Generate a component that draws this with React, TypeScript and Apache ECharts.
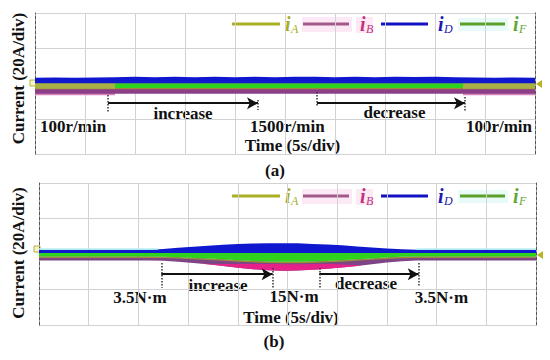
import React, { useEffect, useRef } from "react";
import * as echarts from "echarts";

// ---------- Panel (a): speed change, 100 -> 1500 -> 100 r/min ----------
const timeA = [0, 2, 4, 6, 8, 10, 12, 14, 16, 18, 20, 22, 24, 26, 28, 30, 32, 34, 36, 38, 40, 42, 44, 46, 48, 50];
const blueTopA = [3.3, 3.4, 3.3, 3.4, 3.5, 3.8, 3.5, 3.9, 3.6, 3.8, 3.6, 3.9, 3.6, 3.8, 3.9, 3.6, 3.9, 3.6, 3.9, 3.7, 3.8, 3.6, 3.4, 3.3, 3.4, 3.3];
const edgeTimeA = [0, 50];
const blueBottomA = [0.2, 0.2];
const greenTimeA = [8, 42.8];
const greenTopA = [0.2, 0.2];
const greenBottomA = [-2.6, -2.6];
const oliveTopA = [0.2, 0.2];
const oliveBottomA = [-3.3, -3.3];
const purpleTopA = [-2.6, -2.6];
const purpleBottomA = [-5.8, -5.8];
const mixLeftTimeA = [0, 8];
const mixRightTimeA = [42.8, 50];
const mixOliveTopA = [0.3, 0.3];
const mixOliveBottomA = [-3.0, -3.0];
const mixPinkTopA = [-3.6, -3.6];
const mixPinkBottomA = [-6.6, -6.6];

// ---------- Panel (b): load change, 3.5 -> 15 -> 3.5 N·m ----------
const timeB = [0, 11, 12.5, 14, 15.5, 17, 18.5, 20, 21.5, 23, 24.5, 26, 27.5, 29, 30.5, 32, 33.5, 35, 36.5, 38, 39.5, 50];
const blueTopB = [2.4, 2.4, 2.8, 3.5, 4.1, 4.7, 5.2, 5.6, 5.9, 6.0, 6.1, 6.0, 5.7, 5.3, 4.9, 4.2, 3.6, 3.1, 2.7, 2.4, 2.4, 2.4];
const greenBottomB = [-1.4, -1.4, -1.5, -1.8, -2.2, -2.6, -3.0, -3.5, -3.9, -4.2, -4.4, -4.4, -4.2, -3.9, -3.5, -3.0, -2.5, -2.0, -1.6, -1.4, -1.4, -1.4];
const oliveBottomB = [-2.2, -2.2, -2.3, -2.6, -3.0, -3.4, -3.8, -4.3, -4.7, -5.0, -5.2, -5.2, -5.0, -4.7, -4.3, -3.8, -3.3, -2.8, -2.4, -2.2, -2.2, -2.2];
const purpleBottomB = [-3.7, -3.7, -3.8, -4.3, -5.0, -5.8, -6.8, -7.8, -8.6, -9.2, -9.4, -9.3, -8.9, -8.3, -7.6, -6.8, -5.8, -4.8, -4.1, -3.7, -3.7, -3.7];
const edgeTimeB = [0, 50];
const blueBottomB = [0.5, 0.5];
const magentaTimeB = [16, 17.5, 19, 20.5, 22, 23.5, 25, 26.5, 28, 29.5, 31, 32.5];
const magentaTopB = [-5.3, -5.6, -5.6, -5.6, -5.6, -5.7, -5.8, -5.8, -5.7, -5.7, -6.0, -6.5];
const magentaBottomB = [-5.3, -6.1, -7.1, -8.0, -8.8, -9.3, -9.4, -9.2, -8.7, -8.0, -7.3, -6.5];
const cyanLeftTimeB = [0, 12];
const cyanRightTimeB = [38, 50];
const cyanTopB = [3.2, 3.2];
const cyanBottomB = [2.4, 2.4];

// ---------- annotation positions (s, A) ----------
const arrowsA = [
  { from: 7.3, to: 22.3, y: -11.2 },
  { from: 28.2, to: 43.0, y: -11.2 },
];
const ticksA = [
  { t: 7.3, y1: -6.5, y2: -16.2 },
  { t: 22.3, y1: -9.4, y2: -15.0 },
  { t: 28.2, y1: -4.8, y2: -13.3 },
  { t: 43.0, y1: -7.7, y2: -16.2 },
];
const arrowsB = [
  { from: 12.3, to: 23.5, y: -11.4 },
  { from: 28.2, to: 38.2, y: -11.4 },
];
const ticksB = [
  { t: 12.3, y1: -5.1, y2: -19.0 },
  { t: 23.5, y1: -7.9, y2: -19.0 },
  { t: 28.2, y1: -7.9, y2: -19.0 },
  { t: 38.2, y1: -5.1, y2: -18.6 },
];

const legendNames = ["A", "B", "D", "F"];
const legendLineColors = ["#a9b021", "#a3588a", "#1212c4", "#5ca02a"];
const legendTextColors = ["#a6ad1f", "#c2327c", "#1a1ab0", "#5ea834"];
const legendLineX = [[232, 280], [303, 349], [381, 428], [460, 505]];
const legendTextX = [285, 360, 438, 513];

const SERIF = "'Liberation Serif', 'Times New Roman', serif";

function band(g: number, tTop: number[], vTop: number[], tBot: number[], vBot: number[], color: string, opacity = 1) {
  return {
    type: "custom",
    xAxisIndex: g,
    yAxisIndex: g * 2,
    silent: true,
    clip: true,
    data: [[tTop[0], vTop[0]]],
    renderItem: (_p: any, api: any) => {
      const pts: number[][] = [];
      for (let i = 0; i < tTop.length; i++) pts.push(api.coord([tTop[i], vTop[i]]));
      for (let i = tBot.length - 1; i >= 0; i--) pts.push(api.coord([tBot[i], vBot[i]]));
      return { type: "polygon", shape: { points: pts }, style: { fill: color, opacity } };
    },
  };
}

function annotations(g: number, arrows: any[], ticks: any[]) {
  const data: any[] = [];
  arrows.forEach((a) => {
    data.push([
      { coord: [a.from, a.y], symbol: "none", lineStyle: { color: "#111", width: 2, type: "solid" } },
      { coord: [a.to, a.y], symbol: "arrow", symbolSize: [9, 11] },
    ]);
  });
  ticks.forEach((k) => {
    data.push([
      { coord: [k.t, k.y1], symbol: "none", lineStyle: { color: "#333", width: 1.5, type: "dotted" } },
      { coord: [k.t, k.y2], symbol: "none" },
    ]);
  });
  return {
    type: "line",
    xAxisIndex: g,
    yAxisIndex: g * 2,
    data: [],
    silent: true,
    markLine: { silent: true, animation: false, label: { show: false }, symbol: ["none", "none"], data },
  };
}

function txt(text: string, x: number, y: number, align = "center", extra: any = {}) {
  return {
    type: "text",
    x,
    y,
    silent: true,
    ...extra,
    style: {
      text,
      fontFamily: SERIF,
      fontWeight: "bold",
      fontSize: 17,
      lineHeight: 16,
      fill: "#111",
      textAlign: align,
      textVerticalAlign: "middle",
      align,
      verticalAlign: "middle",
    },
  };
}

function legend(yc: number) {
  const els: any[] = [];
  els.push({ type: "rect", shape: { x: 302, y: yc - 7, width: 50, height: 15 }, style: { fill: "#fde8f5" }, silent: true });
  els.push({ type: "rect", shape: { x: 356, y: yc - 7, width: 17, height: 16 }, style: { fill: "#fde8f5" }, silent: true });
  els.push({ type: "rect", shape: { x: 458, y: yc - 6, width: 50, height: 13 }, style: { fill: "#e8fbf8" }, silent: true });
  legendNames.forEach((n, i) => {
    els.push({
      type: "line",
      silent: true,
      shape: { x1: legendLineX[i][0], y1: yc, x2: legendLineX[i][1], y2: yc },
      style: { stroke: legendLineColors[i], lineWidth: 3 },
    });
    els.push({
      type: "text",
      silent: true,
      x: legendTextX[i],
      y: yc,
      style: { text: "i", fontFamily: SERIF, fontStyle: "italic", fontWeight: "bold", fontSize: 20, fill: legendTextColors[i], textAlign: "left", textVerticalAlign: "middle", align: "left", verticalAlign: "middle" },
    });
    els.push({
      type: "text",
      silent: true,
      x: legendTextX[i] + 6,
      y: yc + 5,
      style: { text: n, fontFamily: SERIF, fontStyle: "italic", fontSize: 12, fill: legendTextColors[i], textAlign: "left", textVerticalAlign: "middle", align: "left", verticalAlign: "middle" },
    });
  });
  return els;
}

function markers(xl: number, yl: number, xr: number, yr: number) {
  return [
    { type: "rect", silent: true, shape: { x: xl - 4, y: yl - 3, width: 6, height: 6 }, style: { fill: "#f4f4c8", stroke: "#b4b43c", lineWidth: 1 } },
    { type: "polygon", silent: true, shape: { points: [[xr, yr], [xr + 6, yr - 4], [xr + 6, yr + 4]] }, style: { fill: "#b8b424" } },
  ];
}

export default function App() {
  const ref = useRef<HTMLDivElement>(null);
  useEffect(() => {
    if (!ref.current) return;
    const chart = echarts.init(ref.current, null, { renderer: "svg" });
    const gridLine = { show: true, lineStyle: { color: "#d2d2d2", width: 1 } };
    const xAxisFor = (g: number) => ({
      type: "value", gridIndex: g, min: 0, max: 50, interval: 5,
      axisLabel: { show: false }, axisTick: { show: false }, axisLine: { show: false }, splitLine: gridLine,
    });
    const yAxisFor = (g: number, pos: string) => ({
      type: "value", gridIndex: g, min: -40, max: 40, interval: 20, position: pos,
      axisLabel: { show: false }, axisTick: { show: false },
      axisLine: { show: true, onZero: false, lineStyle: { color: "#555", width: 1, type: [3, 2] } },
      splitLine: pos === "left" ? gridLine : { show: false },
    });
    const option: any = {
      animation: false,
      backgroundColor: "#ffffff",
      grid: [
        { left: 35, top: 13, width: 500, height: 141 },
        { left: 39, top: 183, width: 497, height: 142 },
      ],
      xAxis: [xAxisFor(0), xAxisFor(1)],
      yAxis: [yAxisFor(0, "left"), yAxisFor(0, "right"), yAxisFor(1, "left"), yAxisFor(1, "right")],
      series: [
        // panel (a)
        band(0, mixLeftTimeA, mixPinkTopA, mixLeftTimeA, mixPinkBottomA, "#d784be"),
        band(0, mixRightTimeA, mixPinkTopA, mixRightTimeA, mixPinkBottomA, "#d784be"),
        band(0, edgeTimeA, purpleTopA, edgeTimeA, purpleBottomA, "#8c3e88"),
        band(0, edgeTimeA, oliveTopA, edgeTimeA, oliveBottomA, "#a2843a"),
        band(0, mixLeftTimeA, mixOliveTopA, mixLeftTimeA, mixOliveBottomA, "#a8b044"),
        band(0, mixRightTimeA, mixOliveTopA, mixRightTimeA, mixOliveBottomA, "#a8b044"),
        band(0, greenTimeA, greenTopA, greenTimeA, greenBottomA, "#2fd21d"),
        band(0, timeA, blueTopA, edgeTimeA, blueBottomA, "#1018cf"),
        annotations(0, arrowsA, ticksA),
        // panel (b)
        band(1, timeB, greenBottomB, timeB, purpleBottomB, "#7e4486"),
        band(1, magentaTimeB, magentaTopB, magentaTimeB, magentaBottomB, "#e6228a"),
        band(1, timeB, greenBottomB, timeB, oliveBottomB, "#9a8c3c"),
        band(1, edgeTimeB, blueBottomB, timeB, greenBottomB, "#2fd21d"),
        band(1, timeB, blueTopB, edgeTimeB, blueBottomB, "#1018cf"),
        band(1, cyanLeftTimeB, cyanTopB, cyanLeftTimeB, cyanBottomB, "#b4f2f2"),
        band(1, cyanRightTimeB, cyanTopB, cyanRightTimeB, cyanBottomB, "#b4f2f2"),
        annotations(1, arrowsB, ticksB),
      ],
      graphic: [
        ...legend(24),
        ...legend(196),
        ...markers(34, 83, 536, 84),
        ...markers(38, 249, 537, 255),
        txt("Current (20A/div)", 18.5, 78.5, "center", { rotation: Math.PI / 2 }),
        txt("100r/min", 40, 126, "left"),
        txt("increase", 183, 113),
        txt("1500r/min", 250, 126, "left"),
        txt("decrease", 394.5, 112.5),
        txt("100r/min", 532, 126, "right"),
        txt("Time (5s/div)", 292.5, 145),
        txt("(a)", 275, 170),
        txt("Current (20A/div)", 18.5, 253, "center", { rotation: Math.PI / 2 }),
        txt("3.5N·m", 140, 297),
        txt("increase", 218, 285),
        txt("15N·m", 294, 296.5),
        txt("decrease", 366, 283),
        txt("3.5N·m", 441.5, 297),
        txt("Time (5s/div)", 291, 317.5),
        txt("(b)", 274, 341.5),
      ],
    };
    chart.setOption(option);
    return () => chart.dispose();
  }, []);
  return <div ref={ref} style={{ width: 550, height: 360, position: "absolute", left: 0, top: 0 }} />;
}
